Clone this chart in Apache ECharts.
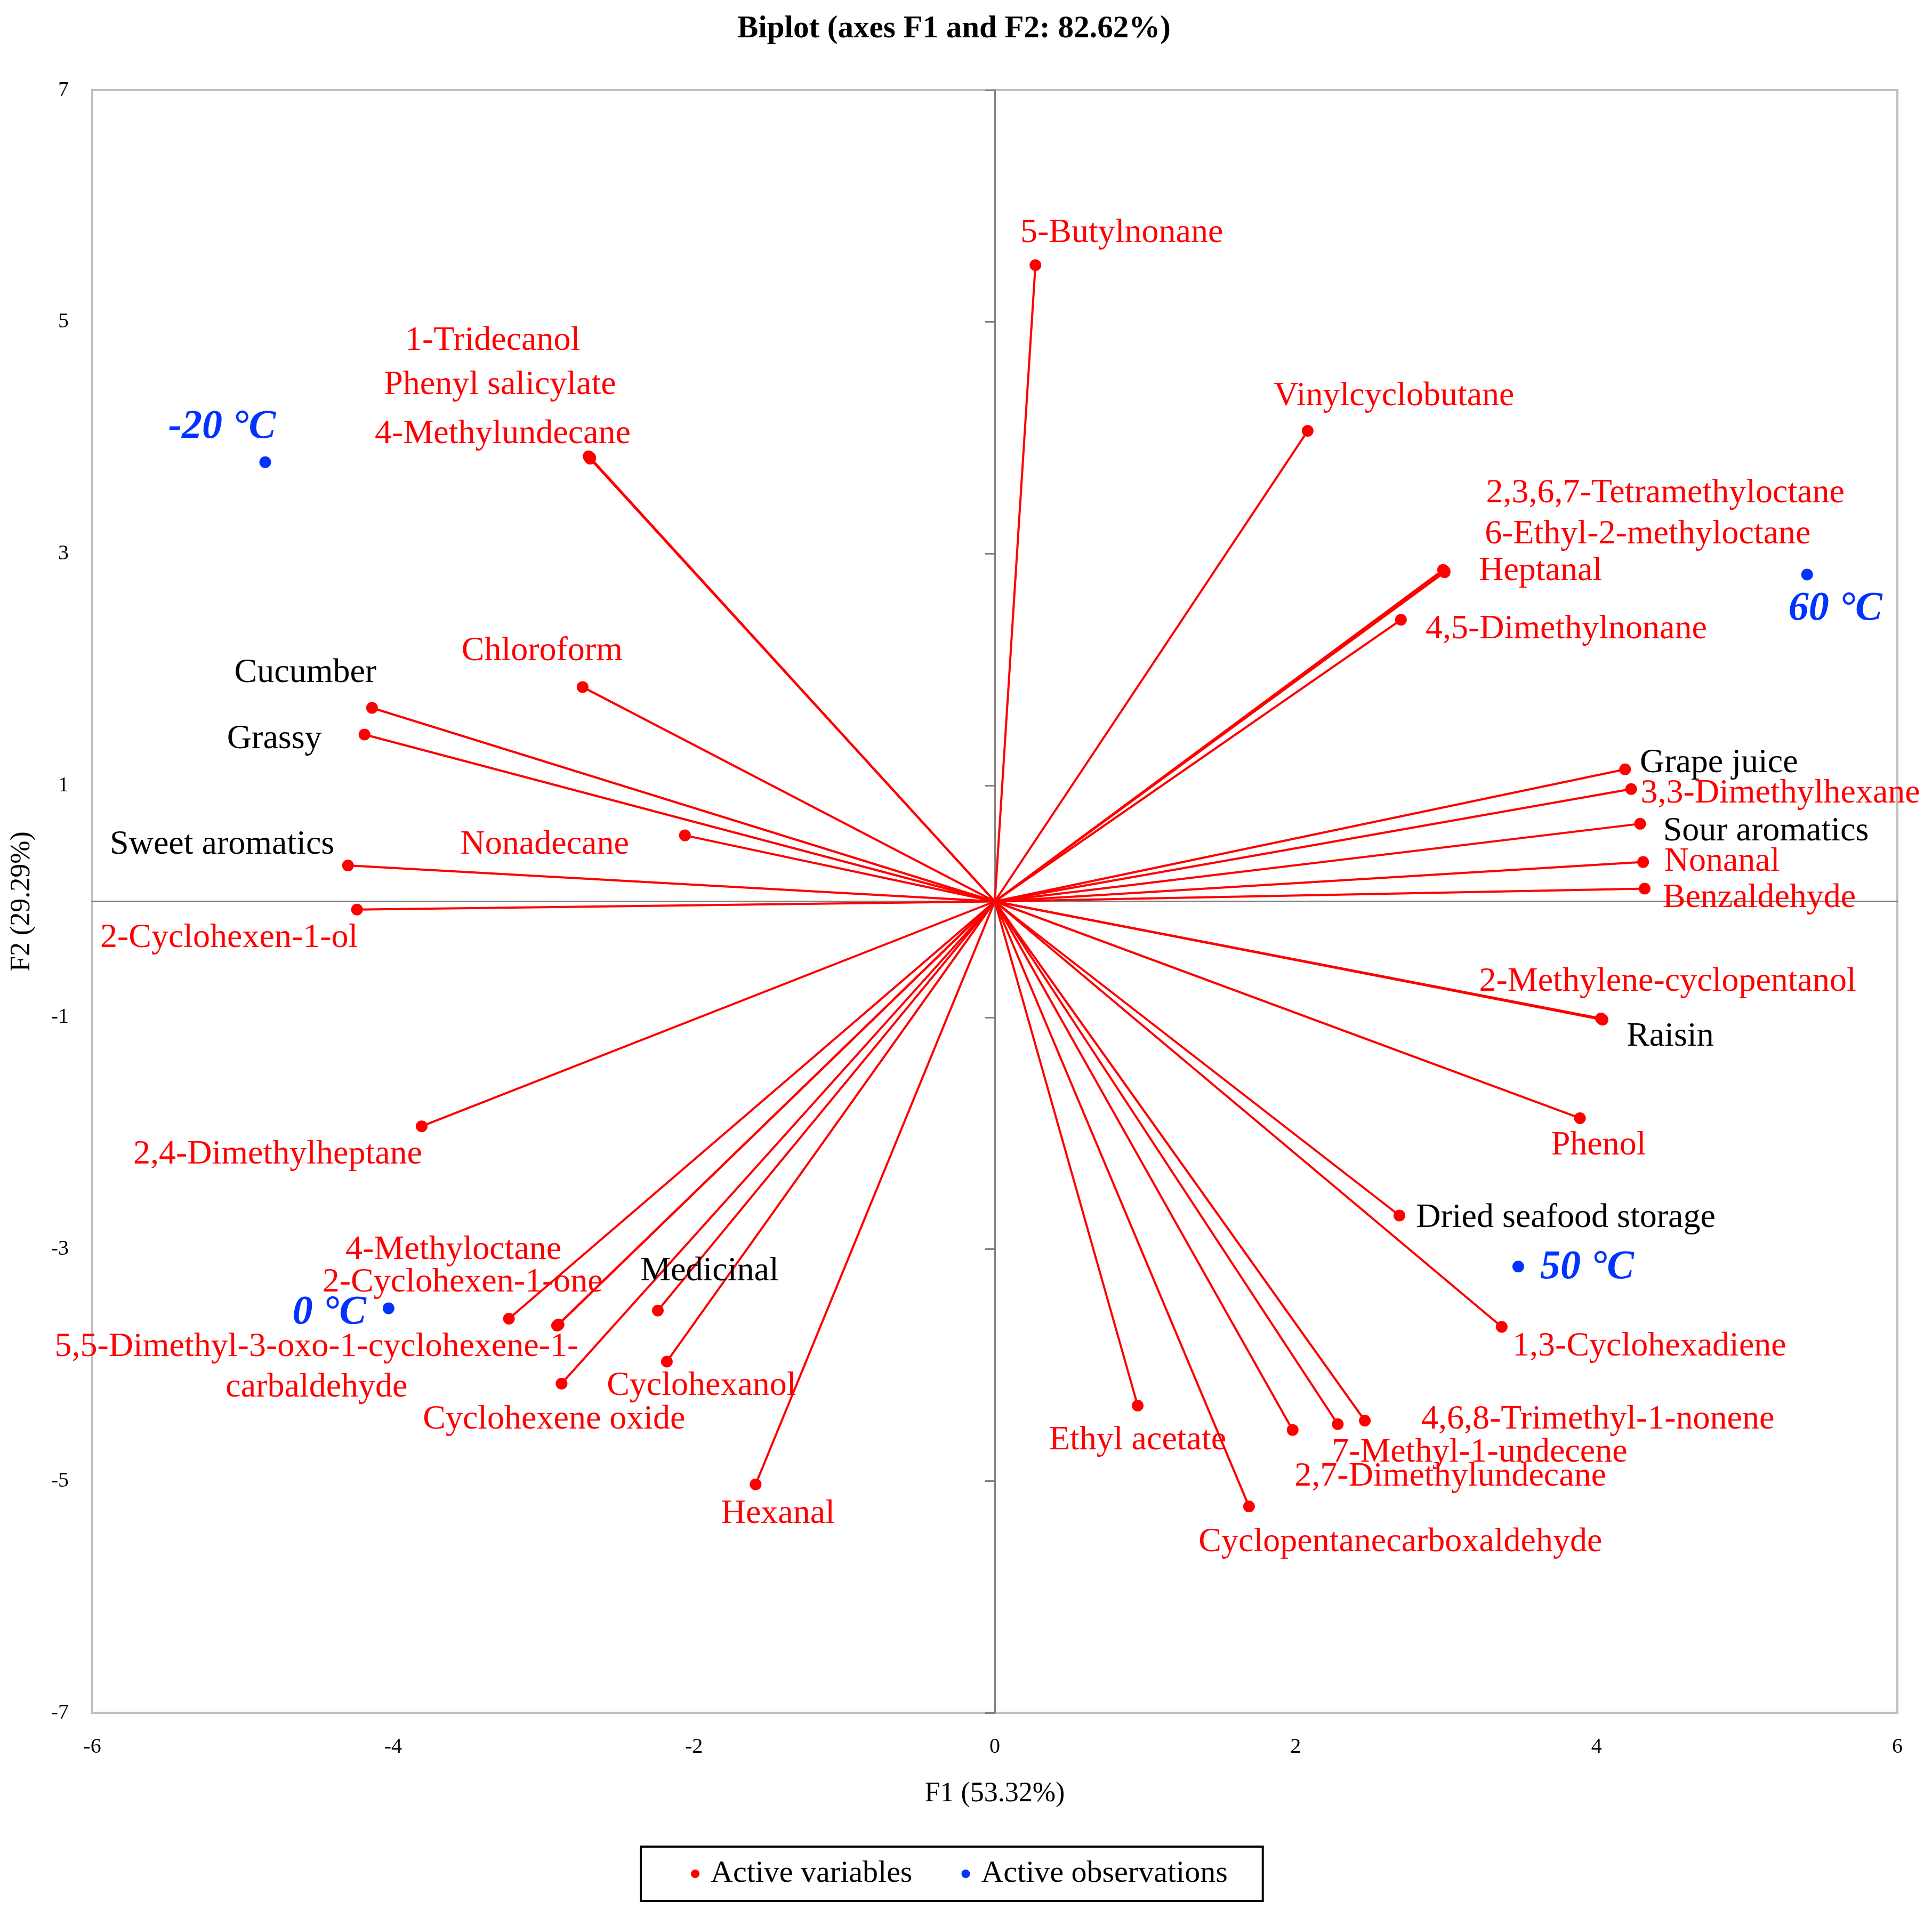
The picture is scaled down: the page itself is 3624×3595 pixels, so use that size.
<!DOCTYPE html>
<html>
<head>
<meta charset="utf-8">
<script src="https://cdn.jsdelivr.net/npm/echarts@6/dist/echarts.min.js"></script>
<style>
html,body{margin:0;padding:0;background:#fff;}
#chart{width:3624px;height:3595px;}
</style>
</head>
<body>
<div id="chart"></div>
<script>
// ---- Data ----
const varNames = [
  '5-Butylnonane','Vinylcyclobutane','1-Tridecanol','Phenyl salicylate','4-Methylundecane',
  'Chloroform','Cucumber','Grassy','Nonadecane','Sweet aromatics',
  '2-Cyclohexen-1-ol','2,4-Dimethylheptane','4-Methyloctane','2-Cyclohexen-1-one',
  '5,5-Dimethyl-3-oxo-1-cyclohexene-1-carbaldehyde','Medicinal','Cyclohexanol','Cyclohexene oxide',
  'Hexanal','Ethyl acetate','Cyclopentanecarboxaldehyde','2,7-Dimethylundecane','7-Methyl-1-undecene',
  '4,6,8-Trimethyl-1-nonene','1,3-Cyclohexadiene','Dried seafood storage','Phenol',
  '2-Methylene-cyclopentanol','Raisin','Benzaldehyde','Nonanal','Sour aromatics',
  '3,3-Dimethylhexane','Grape juice','4,5-Dimethylnonane','Heptanal',
  '6-Ethyl-2-methyloctane','2,3,6,7-Tetramethyloctane'
];
const varF1 = [
  0.27, 2.08, -2.70, -2.69, -2.69,
  -2.74, -4.14, -4.19, -2.06, -4.30,
  -4.24, -3.81, -3.23, -2.90,
  -2.91, -2.24, -2.18, -2.88,
  -1.59, 0.95, 1.69, 1.98, 2.28,
  2.46, 3.37, 2.69, 3.89,
  4.03, 4.04, 4.32, 4.31, 4.29,
  4.23, 4.19, 2.70, 2.99,
  2.98, 2.99
];
const varF2 = [
  5.49, 4.06, 3.84, 3.83, 3.82,
  1.85, 1.67, 1.44, 0.57, 0.31,
  -0.07, -1.94, -3.60, -3.65,
  -3.66, -3.53, -3.97, -4.16,
  -5.03, -4.35, -5.22, -4.56, -4.51,
  -4.48, -3.67, -2.71, -1.87,
  -1.01, -1.02, 0.11, 0.34, 0.67,
  0.97, 1.14, 2.43, 2.85,
  2.86, 2.84
];
// sensory descriptors (other variables are volatile compounds)
const sensoryAttributes = ['Cucumber','Grassy','Sweet aromatics','Medicinal','Dried seafood storage','Raisin','Sour aromatics','Grape juice'];

const obsNames = ['-20 °C','0 °C','50 °C','60 °C'];
const obsF1 = [-4.85, -4.03, 3.48, 5.40];
const obsF2 = [3.79, -3.51, -3.15, 2.82];

const xTicks = {min: -6, max: 6, step: 2};
const yTicks = {min: -7, max: 7, step: 2};

// ---- Label placement (pixel offsets of label centre from point) ----
const varLabelOffset = {
  '5-Butylnonane':[162,-60], 'Vinylcyclobutane':[162,-65],
  '1-Tridecanol':[-180,-217], 'Phenyl salicylate':[-169,-136], '4-Methylundecane':[-164,-46],
  'Chloroform':[-76,-67], 'Cucumber':[-125,-65], 'Grassy':[-169,9], 'Nonadecane':[-263,18],
  'Sweet aromatics':[-236,-39], '2-Cyclohexen-1-ol':[-240,53], '2,4-Dimethylheptane':[-270,53],
  '4-Methyloctane':[-104,-129], '2-Cyclohexen-1-one':[-180,-79],
  '5,5-Dimethyl-3-oxo-1-cyclohexene-1-carbaldehyde':[-451,78],
  'Medicinal':[97,-74], 'Cyclohexanol':[65,46], 'Cyclohexene oxide':[-14,67],
  'Hexanal':[42,55], 'Ethyl acetate':[0,65], 'Cyclopentanecarboxaldehyde':[284,67],
  '2,7-Dimethylundecane':[296,88], '7-Methyl-1-undecene':[266,53],
  '4,6,8-Trimethyl-1-nonene':[437,-2], '1,3-Cyclohexadiene':[277,37],
  'Dried seafood storage':[312,5], 'Phenol':[35,51], '2-Methylene-cyclopentanol':[125,-69],
  'Raisin':[127,32], 'Benzaldehyde':[215,18], 'Nonanal':[148,0], 'Sour aromatics':[236,14],
  '3,3-Dimethylhexane':[280,9], 'Grape juice':[176,-12], '4,5-Dimethylnonane':[310,18],
  'Heptanal':[180,0], '6-Ethyl-2-methyloctane':[384,-67], '2,3,6,7-Tetramethyloctane':[414,-148]
};
const varLabelText = {
  '5,5-Dimethyl-3-oxo-1-cyclohexene-1-carbaldehyde':'5,5-Dimethyl-3-oxo-1-cyclohexene-1-\ncarbaldehyde'
};
const obsLabelOffset = {
  '-20 °C':[-81,-65], '0 °C':[-111,9], '50 °C':[129,2], '60 °C':[53,65]
};

const FONT = '"Liberation Serif","Times New Roman",serif';
const RED = '#FF0000';
const BLUE = '#0033FF';

const lineData = varNames.map((n,i)=>({coords:[[0,0],[varF1[i],varF2[i]]]}));

const varData = varNames.map((n,i)=>({
  name:n,
  value:[varF1[i],varF2[i]],
  label:{
    show:true,
    position:'inside',
    offset:varLabelOffset[n] || [0,-50],
    formatter: varLabelText[n] || n,
    color: sensoryAttributes.includes(n) ? '#000000' : RED,
    fontSize:64,
    lineHeight:76,
    fontFamily:FONT,
    align:'center',
    verticalAlign:'middle'
  }
}));

const obsData = obsNames.map((n,i)=>({
  name:n,
  value:[obsF1[i],obsF2[i]],
  label:{
    show:true,
    position:'inside',
    offset:obsLabelOffset[n] || [0,-50],
    formatter:n,
    color:BLUE,
    fontSize:76,
    fontStyle:'italic',
    fontWeight:'bold',
    fontFamily:FONT,
    align:'center',
    verticalAlign:'middle'
  }
}));

const chart = echarts.init(document.getElementById('chart'), null, {renderer:'canvas'});

const option = {
  backgroundColor:'#ffffff',
  animation:false,
  title:{
    text:'Biplot (axes F1 and F2: 82.62%)',
    left:1378,
    top:20,
    textStyle:{fontFamily:FONT, fontWeight:'bold', fontSize:59, color:'#000'}
  },
  legend:{
    data:['Active variables','Active observations'],
    left:1202,
    top:3463,
    padding:[22,66,22,94],
    itemGap:92,
    icon:'circle',
    itemWidth:16,
    itemHeight:16,
    borderColor:'#000',
    borderWidth:4,
    textStyle:{fontFamily:FONT, fontSize:58, color:'#000', padding:[0,0,0,16]}
  },
  grid:{
    left:173, right:65, top:169, bottom:383,
    show:true, borderColor:'#BFBFBF', borderWidth:4, backgroundColor:'transparent'
  },
  xAxis:[
    {
      type:'value', min:xTicks.min, max:xTicks.max, interval:xTicks.step, position:'bottom',
      axisLine:{show:false}, axisTick:{show:false}, splitLine:{show:false},
      axisLabel:{fontSize:40, color:'#000', fontFamily:FONT, margin:44},
      name:'F1 (53.32%)', nameLocation:'middle', nameGap:126,
      nameTextStyle:{fontFamily:FONT, fontSize:52, color:'#000'}
    },
    {
      type:'value', min:xTicks.min, max:xTicks.max, interval:xTicks.step, position:'bottom',
      axisLine:{show:true, onZero:true, onZeroAxisIndex:0, lineStyle:{color:'#808080', width:3}},
      axisTick:{show:false}, axisLabel:{show:false}, splitLine:{show:false}
    }
  ],
  yAxis:[
    {
      type:'value', min:yTicks.min, max:yTicks.max, interval:yTicks.step, position:'left',
      axisLine:{show:false}, axisTick:{show:false}, splitLine:{show:false},
      axisLabel:{fontSize:40, color:'#000', fontFamily:FONT, margin:44},
      name:'F2 (29.29%)', nameLocation:'middle', nameGap:106,
      nameTextStyle:{fontFamily:FONT, fontSize:52, color:'#000'}
    },
    {
      type:'value', min:yTicks.min, max:yTicks.max, interval:yTicks.step, position:'left',
      axisLine:{show:true, onZero:true, onZeroAxisIndex:0, lineStyle:{color:'#808080', width:3}},
      axisTick:{show:true, length:18, lineStyle:{color:'#808080', width:3}},
      axisLabel:{show:false}, splitLine:{show:false}
    }
  ],
  series:[
    {
      type:'lines',
      coordinateSystem:'cartesian2d',
      xAxisIndex:0, yAxisIndex:0,
      polyline:false,
      silent:true,
      lineStyle:{color:RED, width:4, opacity:1},
      data:lineData,
      z:3
    },
    {
      name:'Active variables',
      type:'scatter',
      xAxisIndex:0, yAxisIndex:0,
      symbol:'circle',
      symbolSize:22,
      itemStyle:{color:RED, opacity:1},
      data:varData,
      z:4
    },
    {
      name:'Active observations',
      type:'scatter',
      xAxisIndex:0, yAxisIndex:0,
      symbol:'circle',
      symbolSize:22,
      itemStyle:{color:BLUE, opacity:1},
      data:obsData,
      z:4
    }
  ]
};
chart.setOption(option);
</script>
</body>
</html>
